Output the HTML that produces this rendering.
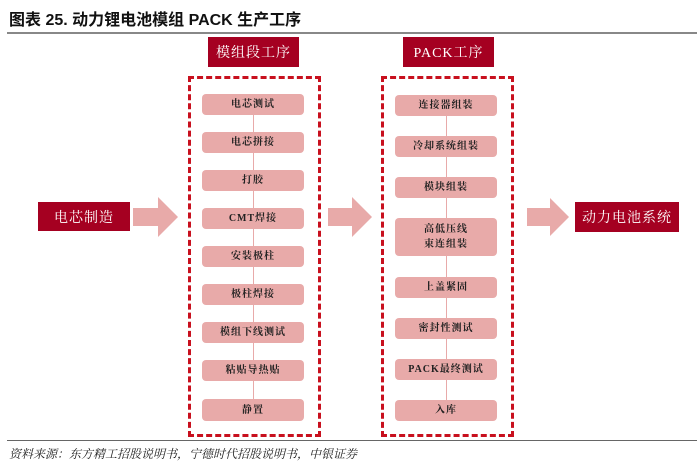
<!DOCTYPE html>
<html><head><meta charset="utf-8"><style>
body{margin:0;width:697px;height:458px;background:#fff;position:relative;font-family:"Liberation Serif","Noto Serif CJK SC",serif;overflow:hidden}
.t{position:absolute;left:9px;top:6px;font-family:"Liberation Sans","Noto Sans CJK SC",sans-serif;font-weight:bold;font-size:16px;color:#111}
.rule{position:absolute;left:7px;width:690px;height:2px;background:#888}
.hd{position:absolute;background:#a50021;color:#fff;font-size:14px;display:flex;align-items:center;justify-content:center;letter-spacing:1px}
.dash{position:absolute;border:3px dashed #c8101e;box-sizing:border-box}
.it{position:absolute;background:#e8aaa9;border-radius:4px;font-size:10px;color:#222;font-weight:bold;display:flex;align-items:center;justify-content:center;text-align:center;line-height:15px;letter-spacing:1px}
.ln{position:absolute;width:1px;background:#e8aaa9}
.src{position:absolute;left:9px;top:445px;font-size:12px;font-style:italic;color:#222;font-family:"Liberation Serif","Noto Serif CJK SC",serif}
</style></head><body>
<div class="t">图表 25. 动力锂电池模组 PACK 生产工序</div>
<div class="rule" style="top:32px"></div>
<div class="hd" style="left:208px;top:37px;width:91px;height:30px">模组段工序</div>
<div class="hd" style="left:403px;top:37px;width:91px;height:30px">PACK工序</div>
<div class="dash" style="left:188px;top:76px;width:133px;height:361px"></div>
<div class="dash" style="left:381px;top:76px;width:133px;height:361px"></div>
<div class="hd" style="left:38px;top:202px;width:92px;height:29px">电芯制造</div>
<div class="hd" style="left:575px;top:202px;width:104px;height:30px">动力电池系统</div>
<svg style="position:absolute;left:0;top:0" width="697" height="458">
<polygon points="133,208 158,208 158,197 178,217 158,237 158,226 133,226" fill="#e8aaa9"/>
<polygon points="328,208 352,208 352,197 372,217 352,237 352,226 328,226" fill="#e8aaa9"/>
<polygon points="527,208 550,208 550,198 569,217 550,236 550,226 527,226" fill="#e8aaa9"/>
</svg>
<div class="ln" style="left:253px;top:110px;height:290px"></div>
<div class="ln" style="left:446px;top:110px;height:295px"></div>
<div class="it" style="left:202px;top:94px;width:102px;height:21px">电芯测试</div>
<div class="it" style="left:202px;top:132px;width:102px;height:21px">电芯拼接</div>
<div class="it" style="left:202px;top:170px;width:102px;height:21px">打胶</div>
<div class="it" style="left:202px;top:208px;width:102px;height:21px">CMT焊接</div>
<div class="it" style="left:202px;top:246px;width:102px;height:21px">安装极柱</div>
<div class="it" style="left:202px;top:284px;width:102px;height:21px">极柱焊接</div>
<div class="it" style="left:202px;top:322px;width:102px;height:21px">模组下线测试</div>
<div class="it" style="left:202px;top:360px;width:102px;height:21px">粘贴导热贴</div>
<div class="it" style="left:202px;top:399px;width:102px;height:22px">静置</div>
<div class="it" style="left:395px;top:95px;width:102px;height:21px">连接器组装</div>
<div class="it" style="left:395px;top:136px;width:102px;height:21px">冷却系统组装</div>
<div class="it" style="left:395px;top:177px;width:102px;height:21px">模块组装</div>
<div class="it" style="left:395px;top:218px;width:102px;height:38px">高低压线<br>束连组装</div>
<div class="it" style="left:395px;top:277px;width:102px;height:21px">上盖紧固</div>
<div class="it" style="left:395px;top:318px;width:102px;height:21px">密封性测试</div>
<div class="it" style="left:395px;top:359px;width:102px;height:21px">PACK最终测试</div>
<div class="it" style="left:395px;top:400px;width:102px;height:21px">入库</div>
<div class="rule" style="top:440px;height:1px;background:#666"></div>
<div class="src">资料来源：东方精工招股说明书，宁德时代招股说明书，中银证券</div>
</body></html>
